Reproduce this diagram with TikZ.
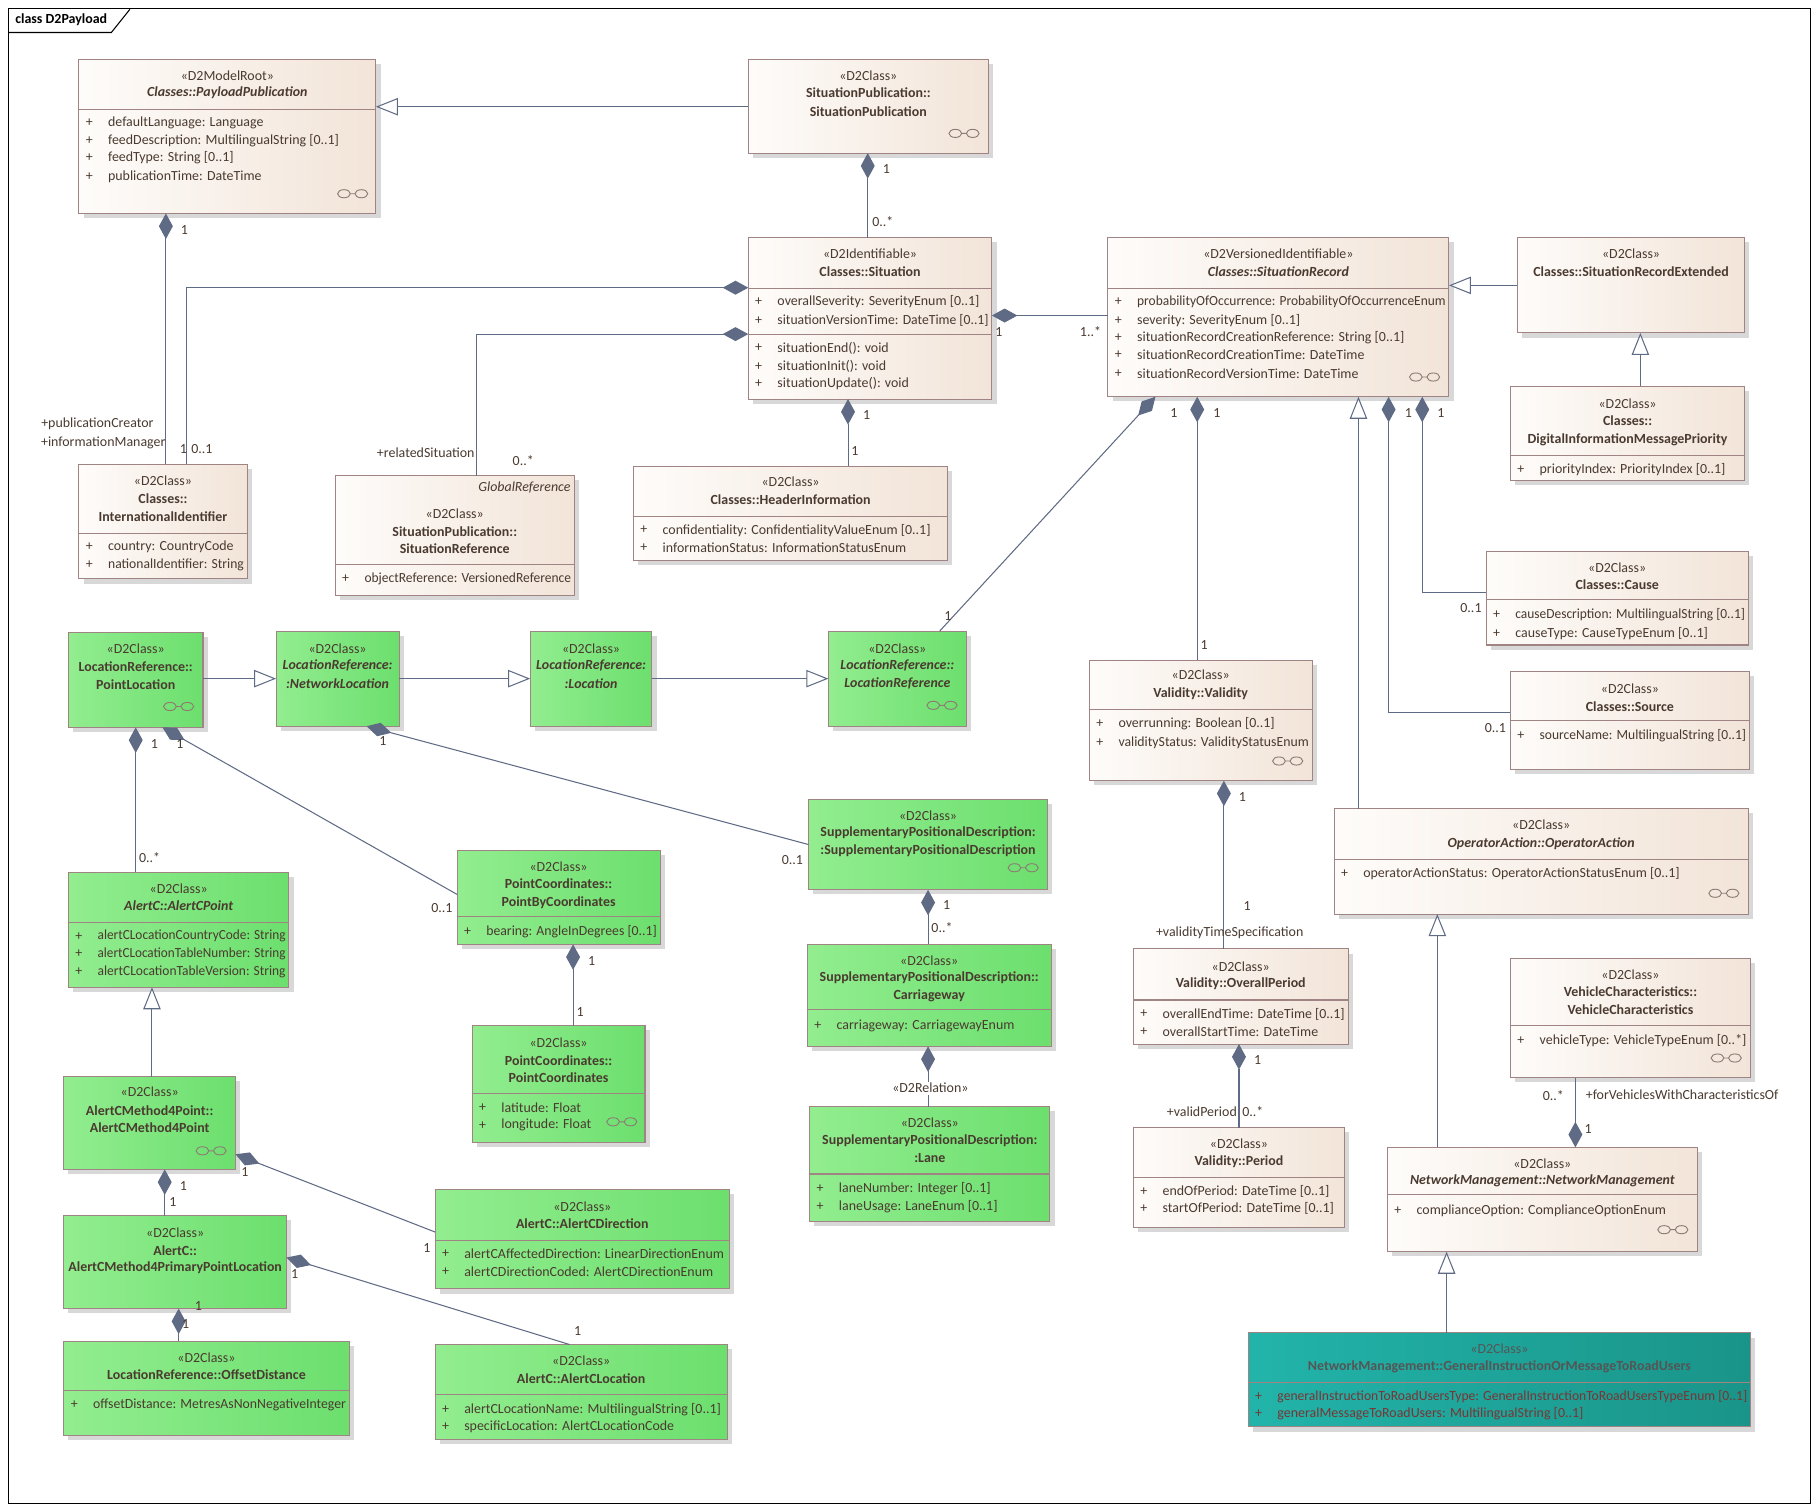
\documentclass[tikz,border=0pt]{standalone}
\usepackage{fontspec}
\setmainfont{Carlito}
\usepackage{tikz}
\usetikzlibrary{arrows.meta,   % arrow tips
                shadows}

\definecolor{lnk}{HTML}{5F6A84}
\definecolor{boxline}{HTML}{A08484}
\definecolor{creamL}{HTML}{FEFCFA}
\definecolor{creamR}{HTML}{F2E4D8}
\definecolor{grnL}{HTML}{92ED8F}
\definecolor{grnR}{HTML}{6CDF6E}
\definecolor{tealL}{HTML}{22B4AA}
\definecolor{tealR}{HTML}{1A9489}
\definecolor{txtcol}{HTML}{4A3A30}
\definecolor{gihead}{HTML}{555555}
\definecolor{gitxt}{HTML}{7A3434}
\definecolor{iconcol}{HTML}{8C7C74}

\tikzset{
  cls/.style={draw=boxline, line width=0.9pt, inner sep=0pt, outer sep=0pt, anchor=north west,
              drop shadow={shadow xshift=4pt, shadow yshift=-4pt, fill=black!30, opacity=0.5}},
  cream/.style={cls, left color=creamL, right color=creamR},
  grn/.style={cls, left color=grnL, right color=grnR},
  tealbox/.style={cls, left color=tealL, right color=tealR},
  txt/.style={font=\fontsize{12}{14}\selectfont, text=txtcol, inner sep=0pt},
  lbl/.style={txt},
  sepl/.style={draw=boxline, line width=0.9pt},
  icon/.style={draw=iconcol, line width=0.8pt},
  comp/.style={draw=lnk, line width=0.9pt, {Diamond[length=22pt, width=12pt, fill=lnk]}-},
  gen/.style={draw=lnk, line width=0.9pt, -{Triangle[open, length=19pt, width=15pt, fill=white]}},
}

% squeeze a text to a width when it is too wide
\newsavebox{\fitbx}
\newcommand{\fitto}[2]{\sbox{\fitbx}{#2}\ifdim\wd\fitbx>#1pt\resizebox{#1pt}{\height}{#2}\else\usebox{\fitbx}\fi}
% class box: name, x1, y1, x2, y2, look
\newcommand{\umlbox}[6]{\node[#6, minimum width={#4pt-#2pt}, minimum height={#5pt-#3pt}] (#1) at (#2,#3) {};
  \pgfmathsetmacro{\bwtmp}{#4-#2}\expandafter\let\csname bw#1\endcsname\bwtmp}
\newcommand{\hd}[3]{\edef\curw{\csname bw#1\endcsname}\pgfmathsetmacro{\availw}{\curw-8}%
  \node[txt] (#1-h#2) at (#1.north |- 0,#2) {\fitto{\availw}{#3}};}
\newcommand{\attr}[3]{\edef\curw{\csname bw#1\endcsname}\pgfmathsetmacro{\availw}{\curw-28}%
  \node[txt, xshift=9pt] (#1-p#2) at (#1.west |- 0,#2) {+};
  \node[txt, anchor=west, xshift=25pt] (#1-a#2) at (#1.west |- 0,#2) {\fitto{\availw}{#3}};}
\newcommand{\sepline}[2]{\draw[sepl] (#1.west |- 0,#2) -- (#1.east |- 0,#2);}
\newcommand{\linkicon}[2]{\draw[icon] (#1-7.5,#2) ellipse (5.5 and 3.5) (#1+7.5,#2) ellipse (5.5 and 3.5) (#1-2,#2) -- (#1+2,#2);}
\newcommand{\mult}[4]{\node[lbl] (#1) at (#2,#3) {#4};}

\begin{document}
\begin{tikzpicture}[x=1pt, y=-1pt]
  \useasboundingbox (0,0) rectangle (1568,1303);
  \fill[white] (0,0) rectangle (1568,1303);

  % frame
  \draw[black, line width=0.9pt] (7,7) rectangle (1561,1296);
  \draw[black, line width=0.9pt] (7,28) -- (96,28) -- (112,8);
  \node[txt, text=black, anchor=west, font=\fontsize{12}{14}\selectfont\bfseries] (frametitle) at (13,17) {class D2Payload};

  % classes
  \umlbox{PP}{68}{51}{324}{184}{cream}
  \hd{PP}{65}{«D2ModelRoot»}
  \hd{PP}{80}{\bfseries\itshape Classes::PayloadPublication}
  \sepline{PP}{94}
  \attr{PP}{106}{defaultLanguage: Language}
  \attr{PP}{121}{feedDescription: MultilingualString [0..1]}
  \attr{PP}{136}{feedType: String [0..1]}
  \attr{PP}{152}{publicationTime: DateTime}
  \linkicon{304}{167}

  \umlbox{SP}{645}{51}{852}{132}{cream}
  \hd{SP}{65}{«D2Class»}
  \hd{SP}{80}{\bfseries SituationPublication::}
  \hd{SP}{96}{\bfseries SituationPublication}
  \linkicon{831}{115}

  \umlbox{Sit}{645}{205}{855}{344}{cream}
  \hd{Sit}{219}{«D2Identifiable»}
  \hd{Sit}{234}{\bfseries Classes::Situation}
  \sepline{Sit}{249}
  \attr{Sit}{260}{overallSeverity: SeverityEnum [0..1]}
  \attr{Sit}{276}{situationVersionTime: DateTime [0..1]}
  \sepline{Sit}{288}
  \attr{Sit}{300}{situationEnd(): void}
  \attr{Sit}{316}{situationInit(): void}
  \attr{Sit}{331}{situationUpdate(): void}

  \umlbox{SR}{955}{205}{1249}{342}{cream}
  \hd{SR}{219}{«D2VersionedIdentifiable»}
  \hd{SR}{234}{\bfseries\itshape Classes::SituationRecord}
  \sepline{SR}{249}
  \attr{SR}{260}{probabilityOfOccurrence: ProbabilityOfOccurrenceEnum}
  \attr{SR}{276}{severity: SeverityEnum [0..1]}
  \attr{SR}{291}{situationRecordCreationReference: String [0..1]}
  \attr{SR}{306}{situationRecordCreationTime: DateTime}
  \attr{SR}{322}{situationRecordVersionTime: DateTime}
  \linkicon{1228}{325}

  \umlbox{SRE}{1308}{205}{1504}{287}{cream}
  \hd{SRE}{219}{«D2Class»}
  \hd{SRE}{234}{\bfseries Classes::SituationRecordExtended}

  \umlbox{DIMP}{1302}{333}{1504}{414}{cream}
  \hd{DIMP}{348}{«D2Class»}
  \hd{DIMP}{363}{\bfseries Classes::}
  \hd{DIMP}{379}{\bfseries DigitalInformationMessagePriority}
  \sepline{DIMP}{393}
  \attr{DIMP}{405}{priorityIndex: PriorityIndex [0..1]}

  \umlbox{IntId}{68}{400}{213}{499}{cream}
  \hd{IntId}{414}{«D2Class»}
  \hd{IntId}{430}{\bfseries Classes::}
  \hd{IntId}{445}{\bfseries InternationalIdentifier}
  \sepline{IntId}{460}
  \attr{IntId}{471}{country: CountryCode}
  \attr{IntId}{487}{nationalIdentifier: String}

  \umlbox{SRef}{289}{410}{495}{513}{cream}
  \node[txt, anchor=east] (SRef-gr) at ([xshift=-3pt]SRef.east |- 0,420) {\itshape GlobalReference};
  \hd{SRef}{443}{«D2Class»}
  \hd{SRef}{458}{\bfseries SituationPublication::}
  \hd{SRef}{473}{\bfseries SituationReference}
  \sepline{SRef}{487}
  \attr{SRef}{499}{objectReference: VersionedReference}

  \umlbox{HI}{546}{402}{817}{483}{cream}
  \hd{HI}{415}{«D2Class»}
  \hd{HI}{431}{\bfseries Classes::HeaderInformation}
  \sepline{HI}{445}
  \attr{HI}{457}{confidentiality: ConfidentialityValueEnum [0..1]}
  \attr{HI}{472}{informationStatus: InformationStatusEnum}

  \umlbox{Cause}{1281}{475}{1507}{556}{cream}
  \hd{Cause}{489}{«D2Class»}
  \hd{Cause}{504}{\bfseries Classes::Cause}
  \sepline{Cause}{517}
  \attr{Cause}{530}{causeDescription: MultilingualString [0..1]}
  \attr{Cause}{546}{causeType: CauseTypeEnum [0..1]}

  \umlbox{Src}{1302}{579}{1508}{663}{cream}
  \hd{Src}{594}{«D2Class»}
  \hd{Src}{609}{\bfseries Classes::Source}
  \sepline{Src}{621}
  \attr{Src}{634}{sourceName: MultilingualString [0..1]}

  \umlbox{PL}{59}{545}{175}{627}{grn}
  \hd{PL}{559}{«D2Class»}
  \hd{PL}{575}{\bfseries LocationReference::}
  \hd{PL}{590}{\bfseries PointLocation}
  \linkicon{154}{609}

  \umlbox{NL}{238}{544}{344}{626}{grn}
  \hd{NL}{559}{«D2Class»}
  \hd{NL}{574}{\bfseries\itshape LocationReference:}
  \hd{NL}{589}{\bfseries\itshape :NetworkLocation}

  \umlbox{Loc}{457}{544}{562}{626}{grn}
  \hd{Loc}{559}{«D2Class»}
  \hd{Loc}{574}{\bfseries\itshape LocationReference:}
  \hd{Loc}{589}{\bfseries\itshape :Location}

  \umlbox{LR}{714}{544}{833}{626}{grn}
  \hd{LR}{559}{«D2Class»}
  \hd{LR}{574}{\bfseries\itshape LocationReference::}
  \hd{LR}{589}{\bfseries\itshape LocationReference}
  \linkicon{812}{608}

  \umlbox{Val}{939}{569}{1131}{673}{cream}
  \hd{Val}{582}{«D2Class»}
  \hd{Val}{598}{\bfseries Validity::Validity}
  \sepline{Val}{612}
  \attr{Val}{624}{overrunning: Boolean [0..1]}
  \attr{Val}{640}{validityStatus: ValidityStatusEnum}
  \linkicon{1110}{656}

  \umlbox{OA}{1150}{697}{1507}{788}{cream}
  \hd{OA}{711}{«D2Class»}
  \hd{OA}{727}{\bfseries\itshape OperatorAction::OperatorAction}
  \sepline{OA}{741}
  \attr{OA}{753}{operatorActionStatus: OperatorActionStatusEnum [0..1]}
  \linkicon{1486}{770}

  \umlbox{ACP}{59}{752}{249}{851}{grn}
  \hd{ACP}{766}{«D2Class»}
  \hd{ACP}{781}{\bfseries\itshape AlertC::AlertCPoint}
  \sepline{ACP}{795}
  \attr{ACP}{807}{alertCLocationCountryCode: String}
  \attr{ACP}{822}{alertCLocationTableNumber: String}
  \attr{ACP}{838}{alertCLocationTableVersion: String}

  \umlbox{PBC}{394}{733}{569}{814}{grn}
  \hd{PBC}{747}{«D2Class»}
  \hd{PBC}{762}{\bfseries PointCoordinates::}
  \hd{PBC}{778}{\bfseries PointByCoordinates}
  \sepline{PBC}{790}
  \attr{PBC}{803}{bearing: AngleInDegrees [0..1]}

  \umlbox{SPD}{697}{689}{903}{767}{grn}
  \hd{SPD}{703}{«D2Class»}
  \hd{SPD}{718}{\bfseries SupplementaryPositionalDescription:}
  \hd{SPD}{733}{\bfseries :SupplementaryPositionalDescription}
  \linkicon{882}{748}

  \umlbox{CW}{696}{814}{906}{902}{grn}
  \hd{CW}{828}{«D2Class»}
  \hd{CW}{843}{\bfseries SupplementaryPositionalDescription::}
  \hd{CW}{858}{\bfseries Carriageway}
  \sepline{CW}{870}
  \attr{CW}{884}{carriageway: CarriagewayEnum}

  \umlbox{Lane}{698}{954}{905}{1053}{grn}
  \hd{Lane}{968}{«D2Class»}
  \hd{Lane}{983}{\bfseries SupplementaryPositionalDescription:}
  \hd{Lane}{998}{\bfseries :Lane}
  \sepline{Lane}{1012}
  \attr{Lane}{1025}{laneNumber: Integer [0..1]}
  \attr{Lane}{1040}{laneUsage: LaneEnum [0..1]}

  \umlbox{OP}{977}{818}{1162}{900}{cream}
  \hd{OP}{833}{«D2Class»}
  \hd{OP}{848}{\bfseries Validity::OverallPeriod}
  \sepline{OP}{862}
  \attr{OP}{874}{overallEndTime: DateTime [0..1]}
  \attr{OP}{889}{overallStartTime: DateTime}

  \umlbox{Per}{977}{972}{1159}{1058}{cream}
  \hd{Per}{986}{«D2Class»}
  \hd{Per}{1001}{\bfseries Validity::Period}
  \sepline{Per}{1015}
  \attr{Per}{1027}{endOfPeriod: DateTime [0..1]}
  \attr{Per}{1042}{startOfPeriod: DateTime [0..1]}

  \umlbox{VC}{1302}{826}{1509}{929}{cream}
  \hd{VC}{840}{«D2Class»}
  \hd{VC}{855}{\bfseries VehicleCharacteristics::}
  \hd{VC}{870}{\bfseries VehicleCharacteristics}
  \sepline{VC}{884}
  \attr{VC}{897}{vehicleType: VehicleTypeEnum [0..*]}
  \linkicon{1488}{912}

  \umlbox{NM}{1196}{989}{1463}{1079}{cream}
  \hd{NM}{1003}{«D2Class»}
  \hd{NM}{1018}{\bfseries\itshape NetworkManagement::NetworkManagement}
  \sepline{NM}{1030}
  \attr{NM}{1044}{complianceOption: ComplianceOptionEnum}
  \linkicon{1442}{1060}

  \umlbox{GI}{1076}{1149}{1509}{1230}{tealbox}
  \hd{GI}{1163}{\color{gihead}«D2Class»}
  \hd{GI}{1178}{\color{gihead}\bfseries NetworkManagement::GeneralInstructionOrMessageToRoadUsers}
  \sepline{GI}{1192}
  \begin{scope}[txt/.append style={text=gitxt}]
  \attr{GI}{1204}{generalInstructionToRoadUsersType: GeneralInstructionToRoadUsersTypeEnum [0..1]}
  \attr{GI}{1219}{generalMessageToRoadUsers: MultilingualString [0..1]}
  \end{scope}

  \umlbox{PC}{407}{884}{556}{985}{grn}
  \hd{PC}{899}{«D2Class»}
  \hd{PC}{914}{\bfseries PointCoordinates::}
  \hd{PC}{929}{\bfseries PointCoordinates}
  \sepline{PC}{943}
  \attr{PC}{955}{latitude: Float}
  \attr{PC}{970}{longitude: Float}
  \linkicon{536}{967}

  \umlbox{AM4P}{55}{928}{203}{1008}{grn}
  \hd{AM4P}{941}{«D2Class»}
  \hd{AM4P}{957}{\bfseries AlertCMethod4Point::}
  \hd{AM4P}{972}{\bfseries AlertCMethod4Point}
  \linkicon{182}{992}

  \umlbox{AM4PPL}{55}{1048}{247}{1128}{grn}
  \hd{AM4PPL}{1063}{«D2Class»}
  \hd{AM4PPL}{1078}{\bfseries AlertC::}
  \hd{AM4PPL}{1093}{\bfseries AlertCMethod4PrimaryPointLocation}

  \umlbox{ACD}{375}{1025}{629}{1111}{grn}
  \hd{ACD}{1040}{«D2Class»}
  \hd{ACD}{1055}{\bfseries AlertC::AlertCDirection}
  \sepline{ACD}{1069}
  \attr{ACD}{1081}{alertCAffectedDirection: LinearDirectionEnum}
  \attr{ACD}{1096}{alertCDirectionCoded: AlertCDirectionEnum}

  \umlbox{OD}{55}{1156}{301}{1237}{grn}
  \hd{OD}{1170}{«D2Class»}
  \hd{OD}{1185}{\bfseries LocationReference::OffsetDistance}
  \sepline{OD}{1199}
  \attr{OD}{1211}{offsetDistance: MetresAsNonNegativeInteger}

  \umlbox{ACL}{375}{1159}{627}{1241}{grn}
  \hd{ACL}{1173}{«D2Class»}
  \hd{ACL}{1188}{\bfseries AlertC::AlertCLocation}
  \sepline{ACL}{1202}
  \attr{ACL}{1215}{alertCLocationName: MultilingualString [0..1]}
  \attr{ACL}{1230}{specificLocation: AlertCLocationCode}

  % generalisations
  \draw[gen] (SP.west |- 0,92) -- (PP.east |- 0,92);
  \draw[gen] (SRE.west |- 0,246) -- (SR.east |- 0,246);
  \draw[gen] (DIMP.north -| 1414,0) -- (SRE.south -| 1414,0);
  \draw[gen] (OA.north -| 1171,0) -- (SR.south -| 1171,0);
  \draw[gen] (PL.east |- 0,585) -- (NL.west |- 0,585);
  \draw[gen] (NL.east |- 0,585) -- (Loc.west |- 0,585);
  \draw[gen] (Loc.east |- 0,585) -- (LR.west |- 0,585);
  \draw[gen] (AM4P.north -| 131,0) -- (ACP.south -| 131,0);
  \draw[gen] (NM.north -| 1239,0) -- (OA.south -| 1239,0);
  \draw[gen] (GI.north -| 1247,0) -- (NM.south -| 1247,0);

  % compositions
  \draw[comp] (SP.south -| 748,0) -- (Sit.north -| 748,0);
  \draw[comp] (PP.south -| 143,0) -- (IntId.north -| 143,0);
  \draw[comp] (Sit.west |- 0,248) -| (IntId.north -| 161,0);
  \draw[comp] (Sit.west |- 0,288) -| (SRef.north -| 411,0);
  \draw[comp] (Sit.east |- 0,272) -- (SR.west |- 0,272);
  \draw[comp] (Sit.south -| 731,0) -- (HI.north -| 731,0);
  \draw[comp] (SR.south -| 996,0) -- (LR.north -| 810,0);
  \draw[comp] (SR.south -| 1032,0) -- (Val.north -| 1032,0);
  \draw[comp] (SR.south -| 1197,0) |- (Src.west |- 0,614);
  \draw[comp] (SR.south -| 1226,0) |- (Cause.west |- 0,511);
  \draw[comp] (PL.south -| 117,0) -- (ACP.north -| 117,0);
  \draw[comp] (PL.south -| 140,0) -- (PBC.west |- 0,771);
  \draw[comp] (NL.south -| 316,0) -- (SPD.west |- 0,728);
  \draw[comp] (SPD.south -| 800,0) -- (CW.north -| 800,0);
  \draw[comp] (CW.south -| 800,0) -- (Lane.north -| 800,0);
  \draw[comp] (PBC.south -| 494,0) -- (PC.north -| 494,0);
  \draw[comp] (AM4P.south -| 142,0) -- (AM4PPL.north -| 142,0);
  \draw[comp] (AM4P.east |- 0,995) -- (ACD.west |- 0,1062);
  \draw[comp] (AM4PPL.east |- 0,1084) -- (ACL.north -| 491,0);
  \draw[comp] (AM4PPL.south -| 154,0) -- (OD.north -| 154,0);
  \draw[comp] (Val.south -| 1055,0) -- (OP.north -| 1055,0);
  \draw[comp] (OP.south -| 1068,0) -- (Per.north -| 1068,0);
  \draw[comp] (NM.north -| 1358,0) -- (VC.south -| 1358,0);

  % multiplicities and roles
  \mult{m1}{764}{146}{1}
  \mult{m2}{761}{191}{0..*}
  \mult{m3}{159}{198}{1}
  \mult{m4}{84}{365}{+publicationCreator}
  \mult{m5}{89}{382}{+informationManager}
  \mult{m6}{158}{387}{1}
  \mult{m7}{174}{387}{0..1}
  \mult{m8}{367}{390}{+relatedSituation}
  \mult{m9}{451}{397}{0..*}
  \mult{m10}{861}{286}{1}
  \mult{m11}{940}{286}{1..*}
  \mult{m12}{747}{358}{1}
  \mult{m13}{737}{389}{1}
  \mult{m14}{1012}{356}{1}
  \mult{m15}{817}{531}{1}
  \mult{m16}{1049}{356}{1}
  \mult{m17}{1038}{556}{1}
  \mult{m18}{1214}{356}{1}
  \mult{m19}{1289}{628}{0..1}
  \mult{m20}{1242}{356}{1}
  \mult{m21}{1268}{524}{0..1}
  \mult{m22}{133}{641}{1}
  \mult{m23}{129}{739}{0..*}
  \mult{m24}{155}{641}{1}
  \mult{m25}{381}{783}{0..1}
  \mult{m26}{330}{639}{1}
  \mult{m27}{683}{741}{0..1}
  \mult{m28}{816}{780}{1}
  \mult{m29}{812}{800}{0..*}
  \node[lbl, fill=white, inner sep=1.5pt] (rel) at (802,938) {«D2Relation»};
  \mult{m30}{510}{828}{1}
  \mult{m31}{500}{872}{1}
  \mult{m32}{158}{1022}{1}
  \mult{m33}{149}{1036}{1}
  \mult{m34}{211}{1010}{1}
  \mult{m35}{368}{1076}{1}
  \mult{m36}{254}{1098}{1}
  \mult{m37}{498}{1147}{1}
  \mult{m38}{171}{1126}{1}
  \mult{m39}{160}{1141}{1}
  \mult{m40}{1071}{687}{1}
  \mult{m41}{1075}{781}{1}
  \mult{m42}{1060}{804}{+validityTimeSpecification}
  \mult{m43}{1084}{914}{1}
  \mult{m44}{1036}{958}{+validPeriod}
  \mult{m45}{1080}{958}{0..*}
  \mult{m46}{1339}{944}{0..*}
  \mult{m47}{1450}{944}{+forVehiclesWithCharacteristicsOf}
  \mult{m48}{1369}{973}{1}
\end{tikzpicture}
\end{document}
